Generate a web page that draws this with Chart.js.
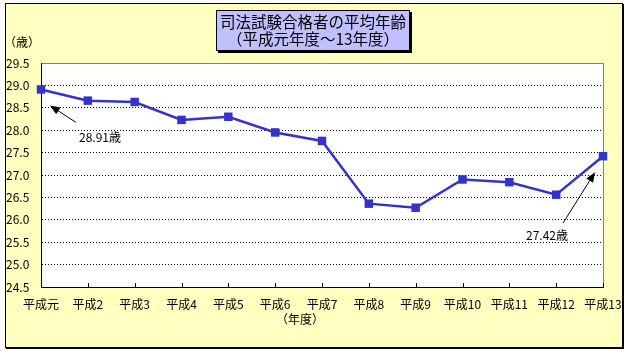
<!DOCTYPE html>
<html>
<head>
<meta charset="utf-8">
<script src="https://cdn.jsdelivr.net/npm/chart.js@4.4.0/dist/chart.umd.min.js"></script>
<style>
html, body { margin: 0; padding: 0; background: #fff; }
</style>
</head>
<body>
<canvas id="myChart" width="628" height="355"></canvas>
<script>
var years = ['平成元', '平成2', '平成3', '平成4', '平成5', '平成6', '平成7', '平成8', '平成9', '平成10', '平成11', '平成12', '平成13'];
var ages = [28.91, 28.66, 28.63, 28.23, 28.30, 27.95, 27.76, 26.36, 26.27, 26.90, 26.84, 26.56, 27.42];
var yMin = 24.5;
var yMax = 29.5;
var yStep = 0.5;
var titleLines = ['司法試験合格者の平均年齢', '（平成元年度～13年度）'];
var yUnit = '（歳）';
var xUnit = '（年度）';
var noteIndex = [0, 12];
var noteText = ['28.91歳', '27.42歳'];

var FONT = '"Noto Sans CJK JP", "Noto Sans", sans-serif';
Chart.defaults.font.family = FONT;
Chart.defaults.font.size = 12;
Chart.defaults.color = '#000';

function arrow(ctx, x1, y1, x2, y2) {
    // line from tail (x1,y1) to tip (x2,y2) with filled head
    var a = Math.atan2(y2 - y1, x2 - x1);
    var len = 10, half = 4;
    var bx = x2 - len * Math.cos(a), by = y2 - len * Math.sin(a);
    ctx.beginPath();
    ctx.moveTo(x1, y1);
    ctx.lineTo(bx, by);
    ctx.strokeStyle = '#000';
    ctx.lineWidth = 1;
    ctx.stroke();
    ctx.beginPath();
    ctx.moveTo(x2, y2);
    ctx.lineTo(bx + half * Math.sin(a), by - half * Math.cos(a));
    ctx.lineTo(bx - half * Math.sin(a), by + half * Math.cos(a));
    ctx.closePath();
    ctx.fillStyle = '#000';
    ctx.fill();
}

var frame = {
    id: 'frame',
    beforeDraw: function (chart) {
        var ctx = chart.ctx, a = chart.chartArea;
        ctx.save();
        ctx.fillStyle = '#fff';
        ctx.fillRect(0, 0, chart.width, chart.height);
        ctx.fillStyle = '#ffffc0';
        ctx.fillRect(5, 3, 618, 345);
        ctx.strokeStyle = '#000';
        ctx.lineWidth = 1;
        ctx.strokeRect(5.5, 3.5, 617, 344);
        ctx.beginPath();
        ctx.moveTo(623.5, 4);
        ctx.lineTo(623.5, 349);
        ctx.moveTo(6, 348.5);
        ctx.lineTo(624, 348.5);
        ctx.stroke();
        ctx.fillStyle = '#fff';
        ctx.fillRect(a.left, a.top, a.right - a.left, a.bottom - a.top);
        ctx.strokeStyle = '#808080';
        ctx.beginPath();
        ctx.moveTo(a.left, a.top + 0.5);
        ctx.lineTo(a.right + 0.5, a.top + 0.5);
        ctx.lineTo(a.right + 0.5, a.bottom);
        ctx.stroke();
        ctx.restore();
    },
    afterDraw: function (chart) {
        var ctx = chart.ctx, a = chart.chartArea;
        var xs = chart.scales.x, ys = chart.scales.y;
        ctx.save();
        // inside tick marks on the category axis
        ctx.strokeStyle = '#000';
        ctx.lineWidth = 1;
        ctx.beginPath();
        for (var i = 0; i < years.length; i++) {
            var px = Math.round(xs.getPixelForTick(i)) + 0.5;
            ctx.moveTo(px, a.bottom);
            ctx.lineTo(px, a.bottom - 4);
        }
        ctx.stroke();

        // title box
        ctx.fillStyle = '#000';
        ctx.fillRect(218, 12, 194, 41);
        ctx.fillStyle = '#c0c0ff';
        ctx.fillRect(216, 10, 194, 41);
        ctx.strokeRect(216.5, 10.5, 193, 40);
        ctx.fillStyle = '#000';
        ctx.font = '15.5px ' + FONT;
        ctx.textAlign = 'center';
        ctx.textBaseline = 'middle';
        ctx.fillText(titleLines[0], 313, 22);
        ctx.fillText(titleLines[1], 313, 39);

        // unit labels
        ctx.font = '12px ' + FONT;
        ctx.textAlign = 'left';
        ctx.fillText(yUnit, 4, 42);
        ctx.textAlign = 'center';
        ctx.fillText(xUnit, 300, 319);

        // callouts
        var p0x = xs.getPixelForValue(noteIndex[0]), p0y = ys.getPixelForValue(ages[noteIndex[0]]);
        arrow(ctx, p0x + 35, p0y + 33, p0x + 9, p0y + 16);
        ctx.textAlign = 'left';
        ctx.fillText(noteText[0], p0x + 38, p0y + 48);
        var p1x = xs.getPixelForValue(noteIndex[1]), p1y = ys.getPixelForValue(ages[noteIndex[1]]);
        arrow(ctx, p1x - 40, p1y + 67, p1x - 8, p1y + 16);
        ctx.textAlign = 'right';
        ctx.fillText(noteText[1], p1x - 35, p1y + 79);
        ctx.restore();
    }
};

var ctx = document.getElementById('myChart');
var chart = new Chart(ctx, {
    type: 'line',
    data: {
        labels: years,
        datasets: [{
            data: ages,
            borderColor: '#3333cc',
            backgroundColor: '#3333cc',
            borderWidth: 2.5,
            pointStyle: 'rect',
            pointRadius: 6,
            pointBorderWidth: 0,
            tension: 0,
            fill: false
        }]
    },
    options: {
        responsive: false,
        devicePixelRatio: 1,
        animation: false,
        layout: { padding: { left: 6, top: 63, right: 25, bottom: 38 } },
        plugins: {
            legend: { display: false },
            tooltip: { enabled: false },
            title: { display: false }
        },
        scales: {
            x: {
                offset: false,
                afterFit: function (s) { s.height = 30; },
                grid: { display: false },
                border: { display: true, color: '#000', width: 1 },
                ticks: { autoSkip: false, maxRotation: 0, padding: 2, font: { size: 12 } }
            },
            y: {
                min: yMin,
                max: yMax,
                afterFit: function (s) { s.width = 35; },
                grid: {
                    drawTicks: false,
                    color: function (c) {
                        if (c.tick && (c.tick.value <= yMin + 0.01 || c.tick.value >= yMax - 0.01)) return 'rgba(0,0,0,0)';
                        return '#000';
                    }
                },
                border: { display: true, color: '#000', width: 1, dash: [1, 2] },
                ticks: {
                    stepSize: yStep,
                    crossAlign: 'far',
                    font: { size: 12 },
                    callback: function (v) { return Number(v).toFixed(1); }
                }
            }
        }
    },
    plugins: [frame]
});
</script>
</body>
</html>
